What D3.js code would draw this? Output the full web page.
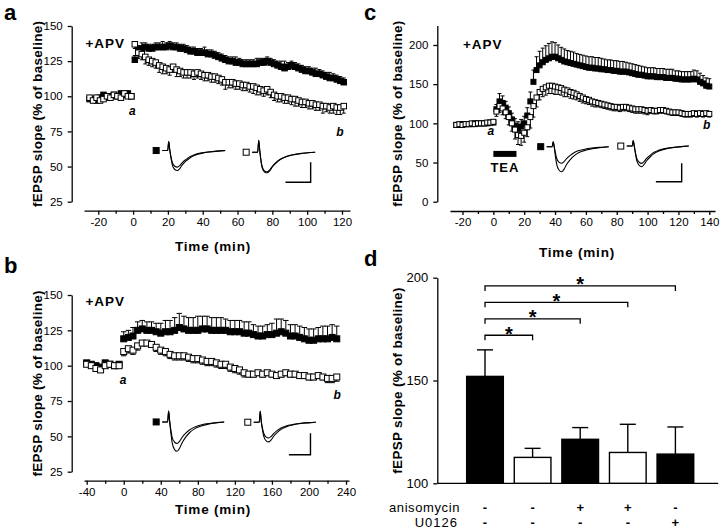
<!DOCTYPE html>
<html><head><meta charset="utf-8">
<script src="https://cdn.jsdelivr.net/npm/d3@7"></script>
<style>
body{margin:0;background:#fff;}
svg{display:block;}
</style></head><body>
<svg id="chart" width="720" height="530"></svg>
<script>
// ---------------- DATA ----------------
// Panel a (sampling every 2 min)
const aBaseTime = d3.range(-25, 0, 2);
const aPostTime = d3.range(1, 122, 2);
const aBaseFilled = [98,98,97,99,101,99,100,101,100,102,101,102,100];
const aBaseOpen   = [99,97,99,97,98,100,99,101,100,99,102,100,100];
const aBaseErr    = [1.5,1.5,1.5,1.5,1.5,1.5,1.5,1.5,1.5,1.5,1.5,1.5,1.5];
const aPostFilled = [126,133,134,135,134,134,135,135,135,135,
  136,135,135,134,134,133,132,132,131,131,
  131,130,130,129,128,127,126,125,125,124,
  124,123,123,123,123,123,124,124,125,124,
  123,122,121,120,121,122,121,120,119,118,
  118,117,116,116,115,114,113,113,112,111,110];
const aPostErrF = [3,3,4,3,3,3,3,3,4,3, 3,3,3,3,3,3,3,3,3,3, 4,3,3,3,3,3,3,3,3,4,
  3,3,3,3,3,4,3,3,3,3, 3,3,4,5,3,3,3,3,3,3, 3,3,4,3,3,3,4,3,3,3, 3];
const aPostOpen = [137,131,130,128,126,125,124,122,121,120,
  119,121,119,118,117,117,117,116,117,116,
  115,115,114,114,113,112,110,110,110,109,
  109,108,108,107,107,106,105,104,105,103,
  101,100,100,99,99,98,98,97,96,96,
  95,95,94,94,93,93,92,93,92,92,93];
const aPostErrO = [3,4,4,5,4,4,4,5,5,4, 4,4,5,4,4,4,4,4,4,4, 4,4,4,4,4,4,5,4,4,4,
  4,4,4,4,5,5,4,4,4,4, 4,4,4,4,4,4,5,4,4,4, 4,4,4,4,5,4,4,5,5,5, 5];

// Panel b (sampling every 5 min)
const bBaseTime = d3.range(-40, 0, 5);
const bPostTime = d3.range(0, 231, 5);
const bBaseFilled = [102,101,100,99,102,101,100,101];
const bBaseOpen   = [101,100,98,97,100,101,100,100];
const bBaseErr    = [1.5,1.5,1.5,1.5,1.5,1.5,1.5,1.5];
const bPostFilled = [119,120,121,125,126,125,125,124,123,124,
  124,125,127,126,125,125,125,126,126,125,
  125,125,125,124,124,124,123,123,122,121,
  121,122,122,123,124,123,121,121,120,119,
  118,118,119,119,119,120,119];
const bPostErrF = [5,5,6,6,6,6,6,6,7,8, 8,9,10,9,9,9,10,9,9,9, 9,9,8,8,8,8,8,8,7,7,
  7,7,8,10,9,9,8,8,8,8, 8,8,8,9,9,9,9];
const bPostOpen = [110,112,111,114,116,116,115,113,111,110,
  108,107,107,107,106,105,105,104,103,103,
  102,101,101,99,98,97,95,94,94,95,
  94,95,94,93,94,95,94,94,93,93,
  92,92,93,92,91,91,92];
const bPostErrO = [3,3,3,3,2,2,2,3,3,3, 3,3,3,3,3,3,3,3,3,3, 3,3,3,3,3,3,3,2,2,2,
  2,2,2,2,2,2,2,2,2,2, 2,2,2,2,3,3,3];

// Panel c (sampling every 2 min)
const cBaseTime = d3.range(-24, 1, 2);
const cPostTime = d3.range(2, 141, 2);
const cBaseFilled = [98,98,99,99,99,99,100,100,100,100,100,101,101];
const cBaseOpen   = [98,99,98,99,99,100,99,100,100,100,101,101,102];
const cBaseErr    = [1.5,1.5,1.5,1.5,1.5,1.5,1.5,1.5,1.5,1.5,1.5,1.5,1.5];
const cPostFilled = [118,128,126,120,113,105,97,93,96,100,
  110,128,153,168,174,178,181,183,185,185,
  183,181,179,178,177,176,175,174,173,172,
  171,171,170,170,169,169,168,168,167,167,
  166,166,166,165,164,163,162,162,161,160,
  160,160,159,159,159,158,158,158,157,157,
  156,156,156,156,157,156,153,151,148,147];
const cPostErrF = [6,10,9,8,8,8,9,9,9,9, 10,12,15,17,18,18,18,19,19,18,
  17,16,16,15,15,15,14,14,14,14, 14,14,14,14,14,13,13,13,13,13,
  13,13,12,12,12,12,12,11,11,11, 11,11,11,11,11,11,11,11,10,10,
  10,10,10,10,11,11,11,10,10,10];
const cPostOpen = [115,122,119,114,108,100,92,85,84,88,
  95,108,122,133,140,144,146,148,148,147,
  146,145,143,142,140,139,137,135,133,131,
  130,128,127,126,125,124,123,122,121,121,
  120,121,121,120,119,118,118,118,117,116,
  117,116,116,117,117,116,115,114,114,114,
  113,112,112,112,113,112,113,112,113,112];
const cPostErrO = [6,8,8,8,10,10,12,12,12,12, 12,14,14,12,10,10,10,10,10,10,
  9,9,9,8,8,8,7,7,7,6, 6,6,6,5,5,5,5,5,5,5,
  5,5,5,5,5,5,5,5,5,5, 4,4,4,4,4,4,4,4,4,4, 4,4,4,4,4,4,4,4,4,4];
const teaPeriod = [0, 15];
const teaLevel = 61;

// Inset traces (ms, in units of the vertical scale bar)
const traceTime = [0,2.2,2.6,3.0,3.4,4.0,5.0,6.0,7.0,8.0,9.5,11,13,16,19,22,25];
const aFilledPre  = [0,0,0.45,0.05,-0.3,-0.7,-0.95,-1.0,-0.9,-0.72,-0.52,-0.37,-0.24,-0.13,-0.07,-0.03,0];
const aFilledPost = [0,0,0.45,0.05,-0.25,-0.58,-0.79,-0.83,-0.75,-0.6,-0.44,-0.31,-0.2,-0.11,-0.06,-0.03,0];
const aOpenPre    = [0,0,0.6,0.1,-0.35,-0.78,-1.0,-1.03,-0.92,-0.74,-0.54,-0.38,-0.25,-0.14,-0.07,-0.03,0];
const aOpenPost   = [0,0,0.6,0.1,-0.32,-0.74,-0.95,-0.98,-0.88,-0.7,-0.51,-0.36,-0.24,-0.13,-0.07,-0.03,0];
const bFilledPre  = [0,0,0.5,0.05,-0.4,-0.95,-1.28,-1.36,-1.22,-0.97,-0.7,-0.5,-0.32,-0.18,-0.09,-0.04,0];
const bFilledPost = [0,0,0.5,0.05,-0.3,-0.7,-0.94,-1.0,-0.9,-0.72,-0.52,-0.37,-0.24,-0.13,-0.07,-0.03,0];
const bOpenPre    = [0,0,0.5,0.05,-0.28,-0.64,-0.86,-0.91,-0.82,-0.65,-0.47,-0.33,-0.22,-0.12,-0.06,-0.03,0];
const bOpenPost   = [0,0,0.5,0.05,-0.22,-0.51,-0.69,-0.73,-0.66,-0.53,-0.38,-0.27,-0.17,-0.1,-0.05,-0.02,0];
const cFilledPre  = [0,0,0.27,0.02,-0.4,-0.95,-1.28,-1.36,-1.22,-0.97,-0.7,-0.5,-0.32,-0.18,-0.09,-0.04,0];
const cFilledPost = [0,0,0.27,0.02,-0.27,-0.63,-0.85,-0.9,-0.81,-0.65,-0.47,-0.33,-0.21,-0.12,-0.06,-0.03,0];
const cOpenPre    = [0,0,0.3,0.02,-0.33,-0.78,-1.05,-1.12,-1.0,-0.8,-0.58,-0.41,-0.27,-0.15,-0.08,-0.03,0];
const cOpenPost   = [0,0,0.3,0.02,-0.28,-0.66,-0.88,-0.94,-0.84,-0.67,-0.49,-0.34,-0.22,-0.12,-0.06,-0.03,0];

// Panel d
const dGroups = [0,1,2,3,4];
const dMeans = [152, 112.6, 121.4, 115, 114.2];
const dSem   = [12.9, 4.4, 5.7, 13.7, 13.2];
const anisomycinRow = ["-","-","+","+","-"];
const u0126Row      = ["-","-","-","-","+"];
const sigPairs  = [[0,1],[0,2],[0,3],[0,4]];
const sigLevels = [172, 180, 188, 196];
const dYTicks = [100, 150, 200];

// ---------------- DRAWING ----------------
const FONT = '"Liberation Sans", Arial, Helvetica, sans-serif';
const svg = d3.select("#chart").style("font-family", FONT);
const barFills = ["#000","#fff","#000","#fff","#000"];

function styleAxis(sel, fs){
  sel.selectAll("path,line").attr("stroke","#000").attr("stroke-width",1.3);
  sel.selectAll("text").attr("fill","#000").style("font-family",FONT).style("font-size",fs+"px");
}
function txt(g, x, y, s, o){
  o = o || {};
  const t = g.append("text").attr("x",x).attr("y",y).text(s)
    .style("font-size",(o.size||12)+"px").style("font-weight",o.weight||"normal")
    .attr("text-anchor",o.anchor||"start").attr("fill","#000");
  if (o.italic) t.style("font-style","italic");
  if (o.ls) t.style("letter-spacing",o.ls+"px");
  return t;
}
function yLabel(g, x, y, s, size){
  g.append("text").attr("transform",`translate(${x},${y}) rotate(-90)`)
    .attr("text-anchor","middle").text(s).style("font-size",size+"px")
    .style("font-weight","bold").style("letter-spacing","0.3px").attr("fill","#000");
}

function drawSeries(g, x, y, times, vals, errs, dir, filled, size, cap){
  const data = times.map((t,i)=>({t:t, v:vals[i], e:errs[i]}));
  const eg = g.append("g").attr("stroke","#000").attr("stroke-width",1);
  eg.append("g").selectAll("line").data(data).join("line")
    .attr("x1",d=>x(d.t)).attr("x2",d=>x(d.t))
    .attr("y1",d=>y(d.v)).attr("y2",d=>y(d.v+dir*d.e));
  eg.append("g").selectAll("line").data(data).join("line")
    .attr("x1",d=>x(d.t)-cap/2).attr("x2",d=>x(d.t)+cap/2)
    .attr("y1",d=>y(d.v+dir*d.e)).attr("y2",d=>y(d.v+dir*d.e));
  g.append("g").selectAll("rect").data(data).join("rect")
    .attr("x",d=>x(d.t)-size/2).attr("y",d=>y(d.v)-size/2)
    .attr("width",size).attr("height",size)
    .attr("fill",filled?"#000":"#fff").attr("stroke","#000").attr("stroke-width",1);
}

function drawInset(g, x, y, start, traces, filled, w, h){
  const ix = d3.scaleLinear().domain([0,25]).range([x(start[0]), x(start[0])+w]);
  const iy = d3.scaleLinear().domain([0,-1]).range([y(start[1]), y(start[1])+h]);
  const line = d3.line().x((d,i)=>ix(traceTime[i])).y(d=>iy(d)).curve(d3.curveMonotoneX);
  traces.forEach(tr=>{
    g.append("path").attr("d",line(tr)).attr("fill","none").attr("stroke","#000").attr("stroke-width",1.1);
  });
  g.append("rect").attr("x",ix(0)-9).attr("y",iy(0)-3).attr("width",6).attr("height",6)
    .attr("fill",filled?"#000":"#fff").attr("stroke","#000").attr("stroke-width",1);
  return {ix, iy};
}
function drawScaleBar(g, x, y, corner, w, h, ms){
  const cx = x(corner[0]), cy = y(corner[1]);
  const len = w*ms/25;
  g.append("path").attr("d",`M${cx-len},${cy}H${cx}V${cy-h}`)
    .attr("fill","none").attr("stroke","#000").attr("stroke-width",1.4);
}

function timePanel(p){
  const g = svg.append("g");
  const x = d3.scaleLinear().domain(p.xDomain).range(p.xRange);
  const y = d3.scaleLinear().domain(p.yDomain).range(p.yRange);
  g.append("g").attr("transform",`translate(${p.yAxisX},0)`)
    .call(d3.axisLeft(y).tickValues(p.yTicks).tickSize(4).tickSizeOuter(0).tickPadding(5).tickFormat(d=>String(d)))
    .call(s=>styleAxis(s,11.5));
  g.append("g").attr("transform",`translate(0,${p.xAxisY})`)
    .call(d3.axisBottom(x).tickValues(p.xTicks).tickSize(4).tickSizeOuter(0).tickPadding(3).tickFormat(d=>String(d)))
    .call(s=>styleAxis(s,11.5));
  g.append("g").attr("transform",`translate(0,${p.xAxisY})`)
    .call(d3.axisBottom(x).tickValues(p.xMinor).tickSize(3).tickFormat(""))
    .call(s=>{s.select(".domain").remove(); styleAxis(s,11.5);});
  // series
  drawSeries(g, x, y, p.baseT, p.baseF, p.baseE, 1, true, p.ms, p.cap);
  drawSeries(g, x, y, p.baseT, p.baseO, p.baseE, -1, false, p.ms, p.cap);
  drawSeries(g, x, y, p.postT, p.postF, p.errF, 1, true, p.ms, p.cap);
  drawSeries(g, x, y, p.postT, p.postO, p.errO, -1, false, p.ms, p.cap);
  // labels
  yLabel(g, p.yLabX, (p.yRange[0]+p.yRange[1])/2, "fEPSP slope (% of baseline)", 13.5);
  txt(g, p.timeX, p.timeY, "Time (min)", {size:13.5, weight:"bold", anchor:"middle", ls:0.8});
  txt(g, x(p.apv[0]), y(p.apv[1]), "+APV", {size:13.5, weight:"bold", ls:1});
  txt(g, x(p.aLab[0]), y(p.aLab[1]), "a", {size:12, weight:"bold", italic:true, anchor:"middle"});
  txt(g, x(p.bLab[0]), y(p.bLab[1]), "b", {size:12, weight:"bold", italic:true, anchor:"middle"});
  txt(g, p.letter[0], p.letter[1], p.letter[2], {size:22, weight:"bold"});
  // insets
  drawInset(g, x, y, p.insF, p.trF, true, p.iw, p.ih);
  drawInset(g, x, y, p.insO, p.trO, false, p.iw, p.ih);
  drawScaleBar(g, x, y, p.bar, p.iw, p.ih, p.barMs);
  return {g, x, y};
}

// Panel a
timePanel({
  xDomain:[-28.2,124.6], xRange:[84,350], yDomain:[25,150], yRange:[201.7,26],
  yAxisX:71.7, xAxisY:210.7,
  xTicks:[-20,0,20,40,60,80,100,120], xMinor:[-10,10,30,50,70,90,110],
  yTicks:[25,50,75,100,125,150],
  baseT:aBaseTime, baseF:aBaseFilled, baseO:aBaseOpen, baseE:aBaseErr,
  postT:aPostTime, postF:aPostFilled, postO:aPostOpen, errF:aPostErrF, errO:aPostErrO,
  ms:5.5, cap:4,
  yLabX:41.5, timeX:213, timeY:250.5,
  apv:[-27.4,134.3], aLab:[-0.5,86.4], bLab:[118.8,71.4], letter:[4,20,"a"],
  insF:[16.7,61.4], insO:[68.4,60.2], trF:[aFilledPre,aFilledPost], trO:[aOpenPre,aOpenPost],
  iw:63, ih:20, bar:[102,38.8], barMs:10
});
// Panel b
timePanel({
  xDomain:[-42.9,243.2], xRange:[84,349], yDomain:[25,150], yRange:[471.7,295],
  yAxisX:71.7, xAxisY:480.7,
  xTicks:[-40,0,40,80,120,160,200,240], xMinor:[-20,20,60,100,140,180,220],
  yTicks:[25,50,75,100,125,150],
  baseT:bBaseTime, baseF:bBaseFilled, baseO:bBaseOpen, baseE:bBaseErr,
  postT:bPostTime, postF:bPostFilled, postO:bPostOpen, errF:bPostErrF, errO:bPostErrO,
  ms:6, cap:5.5,
  yLabX:41.5, timeX:213, timeY:513.5,
  apv:[-41.4,141.9], aLab:[-0.6,86.8], bLab:[230.5,76.5], letter:[4,273,"b"],
  insF:[41.5,60.2], insO:[140.4,60], trF:[bFilledPre,bFilledPost], trO:[bOpenPre,bOpenPost],
  iw:62, ih:21.6, bar:[201.6,37], barMs:8.7
});
// Panel c
const pc = timePanel({
  xDomain:[-28.1,143.7], xRange:[450,715], yDomain:[0,225], yRange:[201.7,25.4],
  yAxisX:437.3, xAxisY:211,
  xTicks:[-20,0,20,40,60,80,100,120,140], xMinor:[-10,10,30,50,70,90,110,130],
  yTicks:[0,50,100,150,200],
  baseT:cBaseTime, baseF:cBaseFilled, baseO:cBaseOpen, baseE:cBaseErr,
  postT:cPostTime, postF:cPostFilled, postO:cPostOpen, errF:cPostErrF, errO:cPostErrO,
  ms:5, cap:4,
  yLabX:401.7, timeX:577, timeY:257,
  apv:[-19.7,195], aLab:[-1.7,85], bLab:[138.3,92.8], letter:[364,20,"c"],
  insF:[34.6,70.2], insO:[86.5,71], trF:[cFilledPre,cFilledPost], trO:[cOpenPre,cOpenPost],
  iw:62, ih:18.4, bar:[122.1,25.5], barMs:10.4
});
// TEA bar
pc.g.append("rect").attr("x",pc.x(teaPeriod[0])).attr("width",pc.x(teaPeriod[1])-pc.x(teaPeriod[0]))
  .attr("y",pc.y(teaLevel)-3).attr("height",6).attr("fill","#000");
txt(pc.g, pc.x((teaPeriod[0]+teaPeriod[1])/2), pc.y(38), "TEA", {size:13, weight:"bold", anchor:"middle", ls:1});

// Panel d
(function(){
  const g = svg.append("g");
  const y = d3.scaleLinear().domain([100,200]).range([483.3,277.7]);
  const xb = d3.scaleBand().domain(dGroups).range([461.2,699.2]).paddingInner(0.2).paddingOuter(0.1);
  const bw = xb.bandwidth();
  const axX = 437.3;
  g.append("g").attr("transform",`translate(${axX},0)`)
    .call(d3.axisLeft(y).tickValues(dYTicks).tickSize(4).tickSizeOuter(0).tickPadding(5))
    .call(s=>styleAxis(s,13));
  g.append("line").attr("x1",axX).attr("x2",xb.range()[1]+19).attr("y1",y(100)).attr("y2",y(100))
    .attr("stroke","#000").attr("stroke-width",1.3);
  // error bars
  const eg = g.append("g").attr("stroke","#000").attr("stroke-width",1.4);
  dGroups.forEach(i=>{
    const cx = xb(i)+bw/2;
    eg.append("line").attr("x1",cx).attr("x2",cx).attr("y1",y(dMeans[i])).attr("y2",y(dMeans[i]+dSem[i]));
    eg.append("line").attr("x1",cx-8).attr("x2",cx+8).attr("y1",y(dMeans[i]+dSem[i])).attr("y2",y(dMeans[i]+dSem[i]));
  });
  g.append("g").selectAll("rect").data(dGroups).join("rect")
    .attr("x",i=>xb(i)+0.7).attr("width",bw-1.4)
    .attr("y",i=>y(dMeans[i])).attr("height",i=>y(100)-y(dMeans[i]))
    .attr("fill",i=>barFills[i]).attr("stroke","#000").attr("stroke-width",1.4);
  // significance
  sigPairs.forEach((pr,k)=>{
    const x1 = xb(pr[0])+bw/2, x2 = xb(pr[1])+bw/2, ly = y(sigLevels[k]);
    g.append("path").attr("d",`M${x1},${ly+5}V${ly}H${x2}V${ly+5}`)
      .attr("fill","none").attr("stroke","#000").attr("stroke-width",1.3);
    txt(g, (x1+x2)/2, ly+5.5, "*", {size:20, weight:"bold", anchor:"middle"});
  });
  // table
  txt(g, 460, 511.7, "anisomycin", {size:13, anchor:"end", ls:0.6});
  txt(g, 458, 526.7, "U0126", {size:13, anchor:"end", ls:1});
  dGroups.forEach(i=>{
    const cx = xb(i)+bw/2;
    txt(g, cx, 511.7, anisomycinRow[i], {size:13, weight:"bold", anchor:"middle"});
    txt(g, cx, 526.7, u0126Row[i], {size:13, weight:"bold", anchor:"middle"});
  });
  yLabel(g, 401.7, (y(100)+y(200))/2, "fEPSP slope (% of baseline)", 13.5);
  txt(g, 364, 266, "d", {size:22, weight:"bold"});
})();
</script>
</body></html>
